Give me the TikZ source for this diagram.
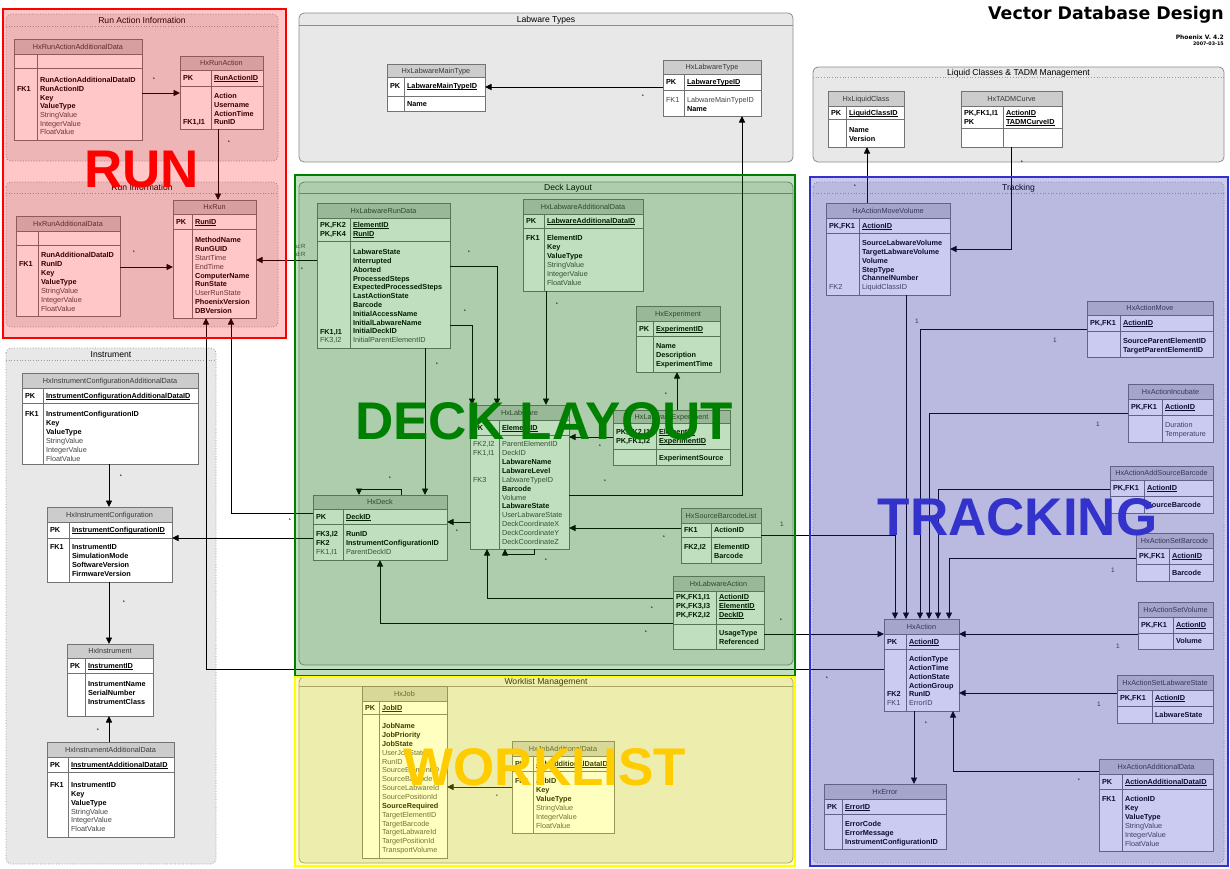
\documentclass[tikz,border=0pt]{standalone}
\usepackage{fontspec}
\setmainfont{Liberation Sans}
\newfontfamily\dejavu{DejaVu Sans}
\usetikzlibrary{arrows.meta}

\definecolor{grpfill}{gray}{0.91}
\definecolor{hdrfill}{gray}{0.80}
\definecolor{tblline}{gray}{0.45}
\definecolor{txtgray}{gray}{0.27}
\definecolor{runred}{RGB}{255,0,0}
\definecolor{deckgreen}{RGB}{0,128,0}
\definecolor{trackblue}{RGB}{51,51,204}
\definecolor{worklistyellow}{RGB}{255,204,0}
\definecolor{frameyellow}{RGB}{255,255,0}

% bold black field / underlined primary key
\newcommand\bld[1]{{\bfseries\color{black}#1}}
\newcommand\und[1]{\setbox0\hbox{#1}\rlap{\rule[-1.3pt]{\wd0}{0.55pt}}\box0}
% horizontal offset of a group title from the group's centre
\newcommand\grptitleshift{0}

\tikzset{
  cell/.style={anchor=base west, inner sep=0pt, outer sep=0pt, yshift=-2.6pt,
    font=\fontsize{7.3}{8.8}\selectfont, text=txtgray},
  hdrtext/.style={anchor=base, inner sep=0pt, font=\fontsize{7.3}{8.8}\selectfont, text=black!78},
  tblframe/.style={draw=tblline, line width=0.8pt, inner sep=0pt, outer sep=0pt},
  grpsolid/.style={draw=black!45, line width=0.8pt},
  grpdot/.style={draw=black!38, line width=0.8pt, dash pattern=on 0.9pt off 1.8pt},
  grptitle/.style={anchor=base, inner sep=0pt, font=\fontsize{8.6}{9}\selectfont},
  fk/.style={draw=black, line width=0.9pt, -{Triangle[length=6.5pt,width=6pt]}},
  link/.style={draw=black, line width=0.9pt},
  mult/.style={inner sep=0pt, font=\fontsize{5.5}{6}\selectfont},
  one/.style={inner sep=0pt, font=\fontsize{6.5}{7}\selectfont, text=black!80},
  biglabel/.style={inner sep=0pt, font=\fontsize{53}{53}\selectfont\bfseries},
}

% group box: name, x1, y1, x2, y2, title separator y, title, border style, separator style
\newcommand\grp[9]{%
  \fill[grpfill, rounded corners=5pt] (#2,#3) rectangle (#4,#5);
  \draw[#8, rounded corners=5pt] (#2,#3) rectangle (#4,#5);
  \draw[#9] (#2,#6) -- (#4,#6);
  \node[grptitle] (#1) at ({(#2+#4)/2+\grptitleshift},{(#3+#6)/2+3}) {#7};
}

% table: name, x1, y1, x2, y2, header bottom, key section bottom, column divider x, title
\newcommand\tbl[9]{%
  \fill[white] (#2,#3) rectangle (#4,#5);
  \fill[hdrfill] (#2,#3) rectangle (#4,#6);
  \draw[tblline, line width=0.8pt] (#2,#6) -- (#4,#6) (#2,#7) -- (#4,#7) (#8,#6) -- (#8,#5);
  \node[tblframe, minimum width={#4-#2}, minimum height={#5-#3}] (#1) at ({(#2+#4)/2},{(#3+#5)/2}) {};
  \node[hdrtext] (#1-t) at ({(#2+#4)/2},{(#3+#6)/2+2.6}) {#9};
}

% column of rows: name prefix, x, first row centre y, row step, list of index/text
\newcommand\cells[5]{%
  \foreach \ci/\ct in {#5}{%
    \node[cell] (#1\ci) at (#2,{#3+(\ci-1)*#4}) {\ct};
  }%
}

\begin{document}
\begin{tikzpicture}[x=1pt,y=-1pt]
\useasboundingbox (0,0) rectangle (1230,868);
\fill[white] (0,0) rectangle (1230,868);

% ---------------- groups ----------------
\grp{g-runaction}{6}{14}{278}{161}{26}{Run Action Information}{grpdot}{grpdot}
\grp{g-run}{6}{182}{278}{327}{193}{Run Information}{grpdot}{grpdot}
\grp{g-labtypes}{299}{13}{793}{162}{25}{Labware Types}{grpsolid}{grpsolid}
\grp{g-liquid}{813}{67}{1224}{162}{77}{Liquid Classes \& TADM Management}{grpsolid}{grpdot}
\grp{g-instr}{6}{348}{216}{864}{360}{Instrument}{grpdot}{grpdot}
\renewcommand\grptitleshift{22}
\grp{g-deck}{299}{182}{793}{665}{193}{Deck Layout}{grpsolid}{grpsolid}
\renewcommand\grptitleshift{0}
\grp{g-work}{299}{677}{793}{863}{686}{Worklist Management}{grpsolid}{grpsolid}
\grp{g-track}{813}{182}{1224}{863}{193}{Tracking}{grpdot}{grpdot}

% ---------------- tables ----------------
% Run Action Information
\tbl{raad}{14}{39}{142}{140}{54}{68}{37}{HxRunActionAdditionalData}
\cells{raad-k}{17}{89}{8.7}{1/\bld{FK1}}
\cells{raad-f}{40}{80}{8.7}{1/\bld{RunActionAdditionalDataID},2/\bld{RunActionID},3/\bld{Key},4/\bld{ValueType},5/StringValue,6/IntegerValue,7/FloatValue}

\tbl{ra}{180}{56}{263}{129}{70}{86}{211}{HxRunAction}
\cells{ra-pk}{183}{78}{9}{1/\bld{PK}}
\cells{ra-pf}{214}{78}{9}{1/\bld{\und{RunActionID}}}
\cells{ra-k}{183}{122}{9}{1/\bld{FK1,I1}}
\cells{ra-f}{214}{96}{8.7}{1/\bld{Action},2/\bld{Username},3/\bld{ActionTime},4/\bld{RunID}}

% Run Information
\tbl{rad}{16}{216}{120}{316}{231}{245}{38}{HxRunAdditionalData}
\cells{rad-k}{19}{264}{9}{1/\bld{FK1}}
\cells{rad-f}{41}{255}{9}{1/\bld{RunAdditionalDataID},2/\bld{RunID},3/\bld{Key},4/\bld{ValueType},5/StringValue,6/IntegerValue,7/FloatValue}

\tbl{run}{173}{200}{256}{318}{214}{229}{192}{HxRun}
\cells{run-pk}{176}{221.5}{9}{1/\bld{PK}}
\cells{run-pf}{195}{221.5}{9}{1/\bld{\und{RunID}}}
\cells{run-f}{195}{240}{8.875}{1/\bld{MethodName},2/\bld{RunGUID},3/StartTime,4/EndTime,5/\bld{ComputerName},6/\bld{RunState},7/UserRunState,8/\bld{PhoenixVersion},9/\bld{DBVersion}}

% Labware Types
\tbl{lmt}{387}{64}{485}{111}{77}{96}{404}{HxLabwareMainType}
\cells{lmt-pk}{390}{86}{9}{1/\bld{PK}}
\cells{lmt-pf}{407}{86}{9}{1/\bld{\und{LabwareMainTypeID}}}
\cells{lmt-f}{407}{104}{9}{1/\bld{Name}}

\tbl{lt}{663}{60}{761}{116}{74}{90}{684}{HxLabwareType}
\cells{lt-pk}{666}{82}{9}{1/\bld{PK}}
\cells{lt-pf}{687}{82}{9}{1/\bld{\und{LabwareTypeID}}}
\cells{lt-k}{666}{100}{8.5}{1/FK1}
\cells{lt-f}{687}{100}{8.5}{1/LabwareMainTypeID,2/\bld{Name}}

% Liquid Classes & TADM
\tbl{lc}{828}{91}{904}{147}{106}{119}{846}{HxLiquidClass}
\cells{lc-pk}{831}{112.5}{9}{1/\bld{PK}}
\cells{lc-pf}{849}{112.5}{9}{1/\bld{\und{LiquidClassID}}}
\cells{lc-f}{849}{130}{9}{1/\bld{Name},2/\bld{Version}}

\tbl{tadm}{961}{91}{1062}{147}{106}{128}{1003}{HxTADMCurve}
\cells{tadm-pk}{964}{113}{9}{1/\bld{PK,FK1,I1},2/\bld{PK}}
\cells{tadm-pf}{1006}{113}{9}{1/\bld{\und{ActionID}},2/\bld{\und{TADMCurveID}}}

% Tracking
\tbl{amv}{826}{203}{950}{295}{218}{233}{859}{HxActionMoveVolume}
\cells{amv-pk}{829}{225.5}{9}{1/\bld{PK,FK1}}
\cells{amv-pf}{862}{225.5}{9}{1/\bld{\und{ActionID}}}
\cells{amv-k}{829}{287}{8.8}{1/FK2}
\cells{amv-f}{862}{243}{8.8}{1/\bld{SourceLabwareVolume},2/\bld{TargetLabwareVolume},3/\bld{Volume},4/\bld{StepType},5/\bld{ChannelNumber},6/LiquidClassID}

\tbl{am}{1087}{301}{1213}{357}{315}{331}{1120}{HxActionMove}
\cells{am-pk}{1090}{323}{9}{1/\bld{PK,FK1}}
\cells{am-pf}{1123}{323}{9}{1/\bld{\und{ActionID}}}
\cells{am-f}{1123}{341}{9}{1/\bld{SourceParentElementID},2/\bld{TargetParentElementID}}

\tbl{ai}{1128}{384}{1213}{442}{399}{415}{1162}{HxActionIncubate}
\cells{ai-pk}{1131}{407}{9}{1/\bld{PK,FK1}}
\cells{ai-pf}{1165}{407}{9}{1/\bld{\und{ActionID}}}
\cells{ai-f}{1165}{425}{9}{1/Duration,2/Temperature}

\tbl{aasb}{1110}{466}{1213}{513}{480}{496}{1144}{HxActionAddSourceBarcode}
\cells{aasb-pk}{1113}{488}{9}{1/\bld{PK,FK1}}
\cells{aasb-pf}{1147}{488}{9}{1/\bld{\und{ActionID}}}
\cells{aasb-f}{1147}{505}{9}{1/\bld{SourceBarcode}}

\tbl{asb}{1136}{533}{1213}{581}{548}{564}{1169}{HxActionSetBarcode}
\cells{asb-pk}{1139}{556}{9}{1/\bld{PK,FK1}}
\cells{asb-pf}{1172}{556}{9}{1/\bld{\und{ActionID}}}
\cells{asb-f}{1172}{573}{9}{1/\bld{Barcode}}

\tbl{asv}{1138}{602}{1213}{649}{617}{633}{1173}{HxActionSetVolume}
\cells{asv-pk}{1141}{625}{9}{1/\bld{PK,FK1}}
\cells{asv-pf}{1176}{625}{9}{1/\bld{\und{ActionID}}}
\cells{asv-f}{1176}{641}{9}{1/\bld{Volume}}

\tbl{asls}{1117}{675}{1213}{723}{690}{706}{1152}{HxActionSetLabwareState}
\cells{asls-pk}{1120}{698}{9}{1/\bld{PK,FK1}}
\cells{asls-pf}{1155}{698}{9}{1/\bld{\und{ActionID}}}
\cells{asls-f}{1155}{715}{9}{1/\bld{LabwareState}}

\tbl{act}{884}{619}{959}{711}{634}{649}{906}{HxAction}
\cells{act-pk}{887}{641.5}{9}{1/\bld{PK}}
\cells{act-pf}{909}{641.5}{9}{1/\bld{\und{ActionID}}}
\cells{act-k}{887}{694.2}{8.8}{1/\bld{FK2},2/FK1}
\cells{act-f}{909}{659}{8.8}{1/\bld{ActionType},2/\bld{ActionTime},3/\bld{ActionState},4/\bld{ActionGroup},5/\bld{RunID},6/ErrorID}

\tbl{err}{824}{784}{946}{849}{799}{814}{842}{HxError}
\cells{err-pk}{827}{806.5}{9}{1/\bld{PK}}
\cells{err-pf}{845}{806.5}{9}{1/\bld{\und{ErrorID}}}
\cells{err-f}{845}{824}{9}{1/\bld{ErrorCode},2/\bld{ErrorMessage},3/\bld{InstrumentConfigurationID}}

\tbl{aad}{1099}{759}{1213}{851}{774}{789}{1122}{HxActionAdditionalData}
\cells{aad-pk}{1102}{781.5}{9}{1/\bld{PK}}
\cells{aad-pf}{1125}{781.5}{9}{1/\bld{\und{ActionAdditionalDataID}}}
\cells{aad-k}{1102}{799}{9}{1/\bld{FK1}}
\cells{aad-f}{1125}{799}{9}{1/\bld{ActionID},2/\bld{Key},3/\bld{ValueType},4/StringValue,5/IntegerValue,6/FloatValue}

% Deck Layout
\tbl{lrd}{317}{203}{450}{348}{218}{241}{350}{HxLabwareRunData}
\cells{lrd-pk}{320}{225}{9}{1/\bld{PK,FK2},2/\bld{PK,FK4}}
\cells{lrd-pf}{353}{225}{9}{1/\bld{\und{ElementID}},2/\bld{\und{RunID}}}
\cells{lrd-k}{320}{331.5}{8.8}{1/\bld{FK1,I1},2/{FK3,I2}}
\cells{lrd-f}{353}{252}{8.8}{1/\bld{LabwareState},2/\bld{Interrupted},3/\bld{Aborted},4/\bld{ProcessedSteps},5/\bld{ExpectedProcessedSteps},6/\bld{LastActionState},7/\bld{Barcode},8/\bld{InitialAccessName},9/\bld{InitialLabwareName},10/\bld{InitialDeckID},11/InitialParentElementID}

\tbl{lad}{523}{199}{643}{291}{214}{228}{544}{HxLabwareAdditionalData}
\cells{lad-pk}{526}{221}{9}{1/\bld{PK}}
\cells{lad-pf}{547}{221}{9}{1/\bld{\und{LabwareAdditionalDataID}}}
\cells{lad-k}{526}{238}{9}{1/\bld{FK1}}
\cells{lad-f}{547}{238}{9}{1/\bld{ElementID},2/\bld{Key},3/\bld{ValueType},4/StringValue,5/IntegerValue,6/FloatValue}

\tbl{exp}{636}{306}{720}{372}{321}{336}{653}{HxExperiment}
\cells{exp-pk}{639}{328.5}{9}{1/\bld{PK}}
\cells{exp-pf}{656}{328.5}{9}{1/\bld{\und{ExperimentID}}}
\cells{exp-f}{656}{346}{9}{1/\bld{Name},2/\bld{Description},3/\bld{ExperimentTime}}

\tbl{lex}{613}{410}{730}{465}{423}{449}{656}{HxLabwareExperiment}
\cells{lex-pk}{616}{432}{9}{1/\bld{PK,FK2,I1},2/\bld{PK,FK1,I2}}
\cells{lex-pf}{659}{432}{9}{1/\bld{\und{ElementID}},2/\bld{\und{ExperimentID}}}
\cells{lex-f}{659}{458}{9}{1/\bld{ExperimentSource}}

\tbl{lw}{470}{405}{569}{549}{420}{435}{499}{HxLabware}
\cells{lw-pk}{473}{427.5}{9}{1/\bld{PK}}
\cells{lw-pf}{502}{427.5}{9}{1/\bld{\und{ElementID}}}
\cells{lw-k}{473}{444}{8.9}{1/{FK2,I2},2/{FK1,I1},5/FK3}
\cells{lw-f}{502}{444}{8.9}{1/ParentElementID,2/DeckID,3/\bld{LabwareName},4/\bld{LabwareLevel},5/LabwareTypeID,6/\bld{Barcode},7/Volume,8/\bld{LabwareState},9/UserLabwareState,10/DeckCoordinateX,11/DeckCoordinateY,12/DeckCoordinateZ}

\tbl{deck}{313}{495}{447}{560}{509}{524}{343}{HxDeck}
\cells{deck-pk}{316}{516.5}{9}{1/\bld{PK}}
\cells{deck-pf}{346}{516.5}{9}{1/\bld{\und{DeckID}}}
\cells{deck-k}{316}{534}{9}{1/\bld{FK3,I2},2/\bld{FK2},3/{FK1,I1}}
\cells{deck-f}{346}{534}{9}{1/\bld{RunID},2/\bld{InstrumentConfigurationID},3/ParentDeckID}

\tbl{sbl}{681}{508}{761}{563}{523}{537}{711}{HxSourceBarcodeList}
\cells{sbl-pk}{684}{530}{9}{1/\bld{FK1}}
\cells{sbl-pf}{714}{530}{9}{1/\bld{ActionID}}
\cells{sbl-k}{684}{547}{9}{1/\bld{FK2,I2}}
\cells{sbl-f}{714}{547}{9}{1/\bld{ElementID},2/\bld{Barcode}}

\tbl{la}{673}{576}{764}{649}{591}{624}{716}{HxLabwareAction}
\cells{la-pk}{676}{597}{9}{1/\bld{PK,FK1,I1},2/\bld{PK,FK3,I3},3/\bld{PK,FK2,I2}}
\cells{la-pf}{719}{597}{9}{1/\bld{\und{ActionID}},2/\bld{\und{ElementID}},3/\bld{\und{DeckID}}}
\cells{la-f}{719}{633}{9}{1/\bld{UsageType},2/\bld{Referenced}}

% Instrument
\tbl{icad}{22}{373}{198}{464}{388}{403}{43}{HxInstrumentConfigurationAdditionalData}
\cells{icad-pk}{25}{395.5}{9}{1/\bld{PK}}
\cells{icad-pf}{46}{395.5}{9}{1/\bld{\und{InstrumentConfigurationAdditionalDataID}}}
\cells{icad-k}{25}{414}{8.9}{1/\bld{FK1}}
\cells{icad-f}{46}{414}{8.9}{1/\bld{InstrumentConfigurationID},2/\bld{Key},3/\bld{ValueType},4/StringValue,5/IntegerValue,6/FloatValue}

\tbl{ic}{47}{507}{172}{582}{522}{538}{69}{HxInstrumentConfiguration}
\cells{ic-pk}{50}{530}{9}{1/\bld{PK}}
\cells{ic-pf}{72}{530}{9}{1/\bld{\und{InstrumentConfigurationID}}}
\cells{ic-k}{50}{547}{8.8}{1/\bld{FK1}}
\cells{ic-f}{72}{547}{8.8}{1/\bld{InstrumentID},2/\bld{SimulationMode},3/\bld{SoftwareVersion},4/\bld{FirmwareVersion}}

\tbl{ins}{67}{644}{153}{716}{658}{673}{85}{HxInstrument}
\cells{ins-pk}{70}{665.5}{9}{1/\bld{PK}}
\cells{ins-pf}{88}{665.5}{9}{1/\bld{\und{InstrumentID}}}
\cells{ins-f}{88}{684}{8.7}{1/\bld{InstrumentName},2/\bld{SerialNumber},3/\bld{InstrumentClass}}

\tbl{iad}{47}{742}{174}{837}{757}{772}{68}{HxInstrumentAdditionalData}
\cells{iad-pk}{50}{764.5}{9}{1/\bld{PK}}
\cells{iad-pf}{71}{764.5}{9}{1/\bld{\und{InstrumentAdditionalDataID}}}
\cells{iad-k}{50}{785}{8.8}{1/\bld{FK1}}
\cells{iad-f}{71}{785}{8.8}{1/\bld{InstrumentID},2/\bld{Key},3/\bld{ValueType},4/StringValue,5/IntegerValue,6/FloatValue}

% Worklist Management
\tbl{job}{362}{686}{447}{858}{701}{714}{379}{HxJob}
\cells{job-pk}{365}{707.5}{9}{1/\bld{PK}}
\cells{job-pf}{382}{707.5}{9}{1/\bld{\und{JobID}}}
\cells{job-f}{382}{726}{8.86}{1/\bld{JobName},2/\bld{JobPriority},3/\bld{JobState},4/UserJobState,5/RunID,6/SourceElementID,7/SourceBarcode,8/SourceLabwareId,9/SourcePositionId,10/\bld{SourceRequired},11/TargetElementID,12/TargetBarcode,13/TargetLabwareId,14/TargetPositionId,15/TransportVolume}

\tbl{jad}{512}{741}{614}{833}{756}{771}{533}{HxJobAdditionalData}
\cells{jad-pk}{515}{763.5}{9}{1/\bld{PK}}
\cells{jad-pf}{536}{763.5}{9}{1/\bld{\und{JobAdditionalDataID}}}
\cells{jad-k}{515}{781}{8.9}{1/\bld{FK1}}
\cells{jad-f}{536}{781}{8.9}{1/\bld{JobID},2/\bld{Key},3/\bld{ValueType},4/StringValue,5/IntegerValue,6/FloatValue}

% ---------------- relationships ----------------
\draw[fk] (raad.east |- 0,93) -- (ra.west |- 0,93);
\draw[fk] (ra.south -| 218,0) -- (run.north -| 218,0);
\draw[fk] (rad.east |- 0,267) -- (run.west |- 0,267);
\draw[fk] (lrd.west |- 0,260) -- (run.east |- 0,260);
\draw[fk] (act.west |- 0,669) -| (run.south -| 206,0);
\draw[fk] (deck.west |- 0,513) -| (run.south -| 231,0);
\draw[fk] (deck.west |- 0,538) -- (ic.east |- 0,538);
\draw[fk] (lt.west |- 0,87) -- (lmt.east |- 0,87);
\draw[fk] (lw.east |- 0,495) -| (lt.south -| 742,0);
\draw[fk] (lrd.east |- 0,266) -| (lw.north -| 497,0);
\draw[fk] (lrd.east |- 0,325) -| (lw.north -| 472,0);
\draw[fk] (lrd.south -| 425,0) -- (deck.north -| 425,0);
\draw[fk] (lad.south -| 546,0) -- (lw.north -| 546,0);
\draw[fk] (lex.north -| 677,0) -- (exp.south -| 677,0);
\draw[fk] (lex.west |- 0,437) -- (lw.east |- 0,437);
\draw[fk] (lw.west |- 0,522) -- (deck.east |- 0,522);
\draw[fk] (sbl.west |- 0,528) -- (lw.east |- 0,528);
\draw[fk] (lw.south -| 534,0) |- (505,554) -- (lw.south -| 505,0);
\draw[fk] (deck.north -| 401,0) |- (359,489) -- (deck.north -| 359,0);
\draw[fk] (la.west |- 0,598) -| (lw.south -| 487,0);
\draw[fk] (la.west |- 0,623) -| (deck.south -| 380,0);
\draw[fk] (la.east |- 0,634) -- (act.west |- 0,634);
\draw[fk] (sbl.east |- 0,535) -| (act.north -| 895,0);
\draw[fk] (amv.south -| 906,0) -- (act.north -| 906,0);
\draw[fk] (am.west |- 0,329) -| (act.north -| 920,0);
\draw[fk] (ai.west |- 0,413) -| (act.north -| 929,0);
\draw[fk] (aasb.west |- 0,489) -| (act.north -| 938,0);
\draw[fk] (asb.west |- 0,558) -| (act.north -| 949,0);
\draw[fk] (asv.west |- 0,634) -- (act.east |- 0,634);
\draw[fk] (asls.west |- 0,693) -- (act.east |- 0,693);
\draw[fk] (aad.west |- 0,771) -| (act.south -| 953,0);
\draw[fk] (act.south -| 914,0) -- (err.north -| 914,0);
\draw[fk] (amv.north -| 867,0) -- (lc.south -| 867,0);
\draw[fk] (tadm.south -| 1011,0) |- (amv.east |- 0,249);
\draw[fk] (icad.south -| 109,0) -- (ic.north -| 109,0);
\draw[fk] (ic.south -| 109,0) -- (ins.north -| 109,0);
\draw[fk] (iad.north -| 109,0) -- (ins.south -| 109,0);
\draw[fk] (jad.west |- 0,787) -- (job.east |- 0,787);

% multiplicities
\foreach \mx/\my [count=\mi] in {154/80,229/143,134/253,302/270,827/679,290/521,643/97,605/482,469/253,465/312,437/365,557/305,666/395,600/447,457/532,664/538,546/561,390/479,652/609,646/633,781/621,1079/781,926/724,855/187,1022/163,121/477,124/603,98/731,497/797}
  \node[mult] (many\mi) at (\mx,\my) {*};
\foreach \mx/\my [count=\mi] in {782/524,917/321,1055/340,1098/424,1085/500,1113/570,1118/646,1099/704}
  \node[one] (single\mi) at (\mx,\my) {1};
\node[cell, font=\fontsize{6}{7}\selectfont] (roleu) at (296,246) {u:R};
\node[cell, font=\fontsize{6}{7}\selectfont] (roled) at (296,254) {d:R};

% ---------------- subject area frames ----------------
\fill[runred, opacity=0.22] (3,9) rectangle (286,338);
\draw[runred, line width=2pt] (3,9) rectangle (286,338);
\fill[deckgreen, opacity=0.25] (295,175) rectangle (795,676);
\draw[deckgreen, line width=2pt] (295,175) rectangle (795,676);
\fill[frameyellow, opacity=0.25] (295,677) rectangle (795,866);
\draw[frameyellow, line width=2pt] (295,677) rectangle (795,866);
\fill[trackblue, opacity=0.25] (810,177) rectangle (1228,866);
\draw[trackblue, line width=2pt] (810,177) rectangle (1228,866);

\node[biglabel, text=runred] (lblrun) at (141.5,169.5) {RUN};
\node[biglabel, text=deckgreen] (lbldeck) at (544,421.5) {DECK LAYOUT};
\node[biglabel, text=trackblue] (lbltrack) at (1017.5,517.5) {TRACKING};
\node[biglabel, text=worklistyellow] (lblwork) at (545,767.5) {WORKLIST};

% ---------------- title block ----------------
\node[anchor=base east, inner sep=0pt, font={\dejavu\fontsize{17.4}{18}\selectfont\bfseries}] (title) at (1224,19.5) {Vector Database Design};
\node[anchor=base east, inner sep=0pt, font={\dejavu\fontsize{6}{7}\selectfont\bfseries}] (version) at (1224,39.3) {Phoenix V. 4.2};
\node[anchor=base east, inner sep=0pt, font={\dejavu\fontsize{4.8}{5}\selectfont\bfseries}] (date) at (1224,45) {2007-03-15};
\end{tikzpicture}
\end{document}
